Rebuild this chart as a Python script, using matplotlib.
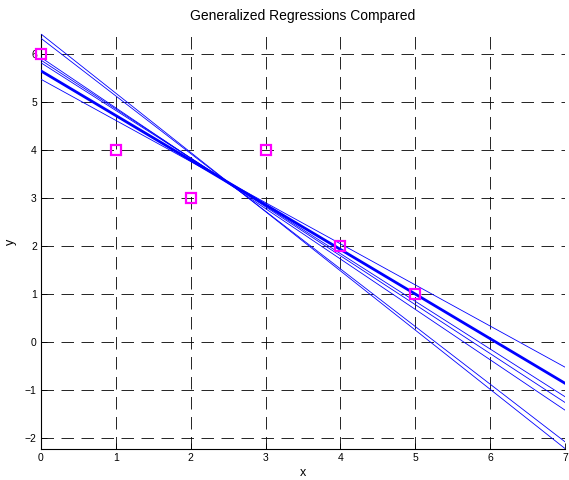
import matplotlib
matplotlib.use("Agg")
import matplotlib.pyplot as plt
import numpy as np

plt.rcParams['font.family'] = ['Liberation Sans', 'DejaVu Sans']

# data points
x_pts = [0, 1, 2, 3, 4, 5]
y_pts = [6, 4, 3, 4, 2, 1]

# regression lines: value at x=0 and at x=7
line_x = [0, 7]
thin_start = [5.476, 5.82, 5.875, 5.93, 6.33, 6.42]
thin_end = [-0.524, -1.14, -1.26, -1.42, -2.08, -2.22]
thick_start = 5.65
thick_end = -0.86

x_ticks = [0, 1, 2, 3, 4, 5, 6, 7]
y_ticks = [-2, -1, 0, 1, 2, 3, 4, 5, 6]

fig = plt.figure(figsize=(5.69, 4.8), dpi=100)
ax = fig.add_axes([41/569, 1 - 449/480, (565 - 41)/569, (449 - 34)/480])

for s, e in zip(thin_start, thin_end):
    ax.plot(line_x, [s, e], color=(0, 0, 1), lw=0.6, zorder=3)
ax.plot(line_x, [thick_start, thick_end], color=(0, 0, 1), lw=2.0, zorder=3)

ax.plot(x_pts, y_pts, linestyle='none', marker='s', markersize=6.5,
        markerfacecolor='none', markeredgecolor=(1, 0, 1), markeredgewidth=1.6,
        zorder=4, clip_on=False)

ax.set_xlim(0, 7)
ax.set_ylim(-2.23, 6.42)
ax.set_xticks(x_ticks)
ax.set_yticks(y_ticks)
ax.tick_params(direction='in', length=4, width=0.6, labelsize=7.5, pad=3)
ax.grid(True, color='black', lw=0.6, linestyle=(0, (15, 9)))
ax.set_axisbelow(True)
for sp in ['top', 'right']:
    ax.spines[sp].set_visible(False)
for sp in ['left', 'bottom']:
    ax.spines[sp].set_linewidth(0.8)

ax.set_title('Generalized Regressions Compared', fontsize=10, pad=10)
ax.set_xlabel('x', fontsize=9, labelpad=3)
ax.set_ylabel('y', fontsize=9, labelpad=6)

fig.savefig('out.png', dpi=100)
